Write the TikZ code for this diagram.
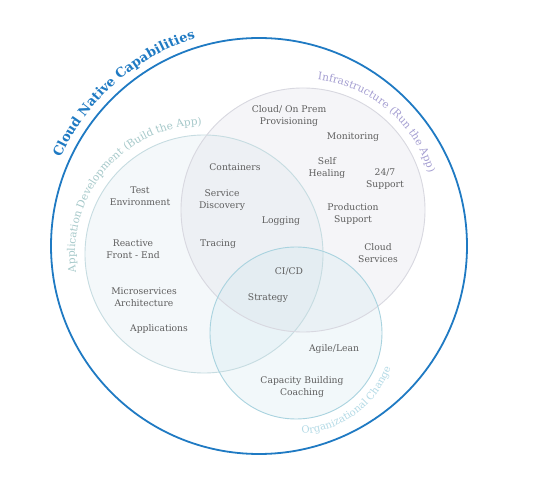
\documentclass[tikz,border=0pt]{standalone}
\usepackage{fontspec}
\setmainfont{DejaVu Serif}
\usetikzlibrary{decorations.text,calc}
\definecolor{outerblue}{HTML}{1F7AC3}
\definecolor{lblgrey}{HTML}{5E5E5E}
\definecolor{appcol}{HTML}{A6C9CA}
\definecolor{infcol}{HTML}{A59FD2}
\definecolor{orgcol}{HTML}{B3DAE6}
\definecolor{appline}{HTML}{C6DCE1}
\definecolor{infline}{HTML}{D8D8E0}
\definecolor{orgline}{HTML}{A9D3DF}
\definecolor{appfill}{HTML}{D8E6EF}
\definecolor{inffill}{HTML}{D8D8E2}
\definecolor{orgfill}{HTML}{CDE6EF}
\tikzset{
  lbl/.style={text=lblgrey, font=\fontsize{9.2}{12}\selectfont, align=center, inner sep=0pt},
  outerring/.style={draw=outerblue, line width=1.8pt},
}
\begin{document}
\begin{tikzpicture}[x=1pt,y=1pt]
\useasboundingbox (0,0) rectangle (540,479);
\fill[white] (0,0) rectangle (540,479);
\coordinate (O) at (259,233);
\coordinate (L) at (204,225);
\coordinate (R) at (303,269);
\coordinate (B) at (296,146);
% fills
\fill[appfill, fill opacity=0.27] (L) circle[radius=119];
\fill[inffill, fill opacity=0.24] (R) circle[radius=122];
\fill[orgfill, fill opacity=0.26] (B) circle[radius=86];
% borders
\draw[appline, line width=0.9pt] (L) circle[radius=119];
\draw[infline, line width=0.9pt] (R) circle[radius=122];
\draw[orgline, line width=0.9pt] (B) circle[radius=86];
\draw[outerring] (O) circle[radius=208];
% arc texts
\path[decorate, decoration={text along path, text align=center, text color=outerblue,
  text={|\bfseries\fontsize{13}{13}\selectfont|Cloud Native Capabilities}}]
  ($(O)+(166:217)$) arc[start angle=166, end angle=97, radius=217];
\path[decorate, decoration={text along path, text align=center, text color=appcol,
  text={|\fontsize{10.5}{10.5}\selectfont|Application Development (Build the App)}}]
  ($(L)+(207:129)$) arc[start angle=207, end angle=72, radius=129];
\path[decorate, decoration={text along path, text align=center, text color=infcol,
  text={|\fontsize{10.5}{10.5}\selectfont|Infrastructure (Run the App)}}]
  ($(R)+(101:131)$) arc[start angle=101, end angle=-1, radius=131];
\path[decorate, decoration={text along path, text align=center, text color=orgcol,
  text={|\fontsize{10}{10}\selectfont|Organizational Change}}]
  ($(B)+(254:101)$) arc[start angle=254, end angle=359, radius=101];
% labels
\node[lbl] (cloudprem) at (289,362.5) {Cloud/ On Prem\\Provisioning};
\node[lbl] (monitoring) at (353,342) {Monitoring};
\node[lbl] (selfheal) at (327,311) {Self\\Healing};
\node[lbl] (support) at (385,300) {24/7\\Support};
\node[lbl] (prodsupport) at (353,265) {Production\\Support};
\node[lbl] (logging) at (281,258) {Logging};
\node[lbl] (cloudserv) at (378,226) {Cloud\\Services};
\node[lbl] (containers) at (235,312) {Containers};
\node[lbl] (servdisc) at (222,279) {Service\\Discovery};
\node[lbl] (tracing) at (218,235) {Tracing};
\node[lbl] (testenv) at (140,283) {Test\\Environment};
\node[lbl] (reactive) at (133,230) {Reactive\\Front - End};
\node[lbl] (micro) at (144,182) {Microservices\\Architecture};
\node[lbl] (apps) at (159,150) {Applications};
\node[lbl] (cicd) at (289,207) {CI/CD};
\node[lbl] (strategy) at (268,181) {Strategy};
\node[lbl] (agile) at (334,130) {Agile/Lean};
\node[lbl] (capacity) at (302,92) {Capacity Building\\Coaching};
\end{tikzpicture}
\end{document}
